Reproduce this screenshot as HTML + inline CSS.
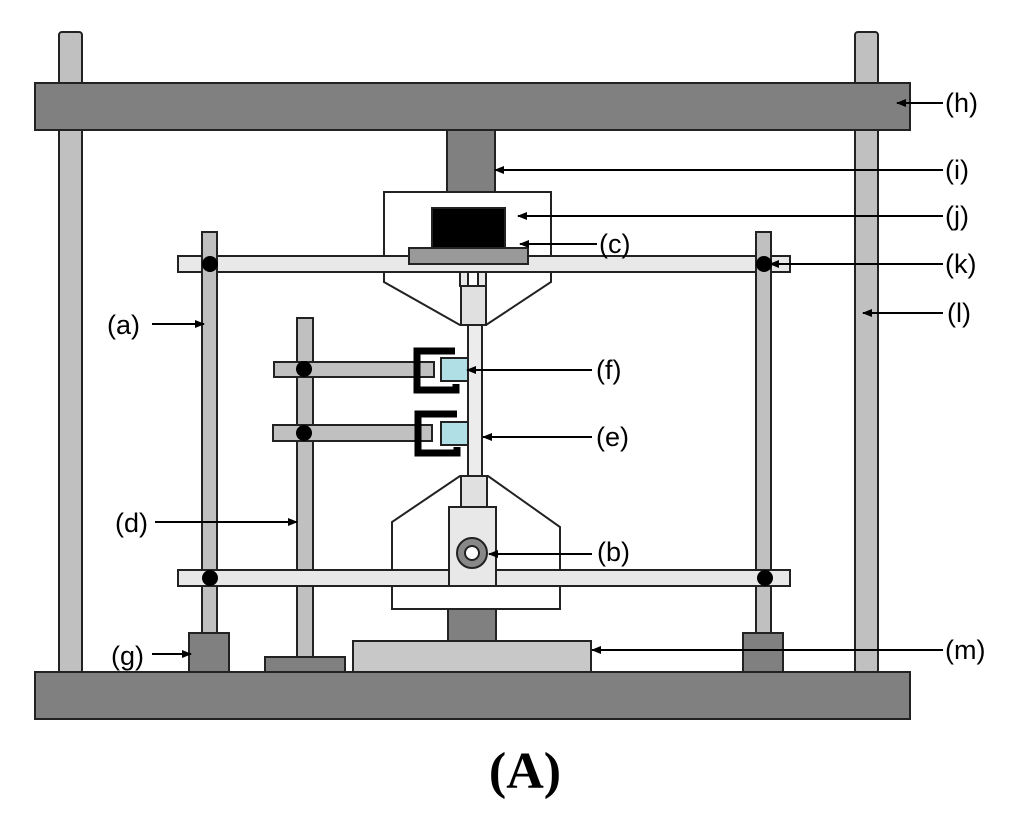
<!DOCTYPE html>
<html><head><style>
html,body{margin:0;padding:0;background:#fff;}
svg{display:block}
text{font-family:"Liberation Sans",sans-serif;font-size:27px;fill:#000}
</style></head><body>
<svg width="1024" height="817" viewBox="0 0 1024 817" xmlns="http://www.w3.org/2000/svg">
<defs>
<marker id="ar" markerWidth="10" markerHeight="8" refX="9" refY="4" orient="auto" markerUnits="userSpaceOnUse">
<path d="M0,0 L10,4 L0,8 Z" fill="#000"/></marker>
</defs>
<g stroke="#222" stroke-width="2">
<rect x="59" y="32" width="23" height="641" rx="3" fill="#c0c0c0"/>
<rect x="855" y="32" width="23" height="641" rx="3" fill="#c0c0c0"/>
<rect x="35" y="83" width="875" height="47" fill="#808080"/>
<rect x="447" y="130" width="48" height="62" fill="#808080"/>
<rect x="384" y="192" width="167" height="66" fill="#fff"/>
<polygon points="384,272 551,272 551,282 486,325 460,325 384,282" fill="#fff"/>
<rect x="432" y="208" width="73" height="40" fill="#000"/>
<rect x="178" y="256" width="612" height="16" fill="#e8e8e8"/>
<rect x="409" y="248" width="119" height="16" fill="#999"/>
<rect x="460" y="272" width="8" height="14" fill="#e8e8e8"/>
<rect x="478" y="272" width="8" height="14" fill="#e8e8e8"/>
<rect x="461" y="286" width="25" height="39" fill="#e0e0e0"/>
<rect x="468" y="325" width="14" height="153" fill="#ececec"/>
<rect x="202" y="232" width="15" height="401" fill="#c0c0c0"/>
<rect x="756" y="232" width="15" height="401" fill="#c0c0c0"/>
<rect x="297" y="318" width="16" height="339" fill="#c0c0c0"/>
<rect x="274" y="362" width="160" height="15" fill="#c0c0c0"/>
<rect x="273" y="425" width="159" height="16" fill="#c0c0c0"/>
</g>
<g fill="none" stroke="#000" stroke-width="7">
<path d="M455,351 L417,351 L417,390 L456,390 L456,384"/>
<path d="M457,414 L418,414 L418,453 L457,453 L457,447"/>
</g>
<g stroke="#222" stroke-width="2">
<rect x="441" y="358" width="27" height="23" fill="#b0e0e6"/>
<rect x="441" y="422" width="27" height="23" fill="#b0e0e6"/>
<polygon points="460,476 488,476 560,527 560,609 392,609 392,522" fill="#fff"/>
<line x1="392" y1="586" x2="560" y2="586"/>
<rect x="178" y="570" width="612" height="16" fill="#e8e8e8"/>
<rect x="461" y="476" width="26" height="31" fill="#e0e0e0"/>
<rect x="449" y="507" width="47" height="79" fill="#e8e8e8"/>
<circle cx="472" cy="553" r="15" fill="#888"/>
<circle cx="472" cy="553" r="7" fill="#fff"/>
<rect x="448" y="609" width="48" height="32" fill="#808080"/>
<rect x="353" y="641" width="238" height="32" fill="#c8c8c8"/>
<rect x="189" y="633" width="40" height="40" fill="#808080"/>
<rect x="743" y="633" width="40" height="40" fill="#808080"/>
<rect x="265" y="657" width="80" height="16" fill="#808080"/>
<rect x="35" y="672" width="875" height="47" fill="#808080"/>
</g>
<g fill="#000">
<circle cx="210" cy="264" r="8"/><circle cx="764" cy="264" r="8"/>
<circle cx="210" cy="578" r="8"/><circle cx="765" cy="578" r="8"/>
<circle cx="304" cy="369" r="8"/><circle cx="304" cy="433" r="8"/>
</g>
<g stroke="#000" stroke-width="2" marker-end="url(#ar)">
<line x1="943" y1="103" x2="897" y2="103"/>
<line x1="943" y1="170" x2="495" y2="170"/>
<line x1="943" y1="216" x2="518" y2="216"/>
<line x1="943" y1="264" x2="770" y2="264"/>
<line x1="943" y1="313" x2="863" y2="313"/>
<line x1="943" y1="650" x2="592" y2="650"/>
<line x1="597" y1="244" x2="520" y2="244"/>
<line x1="592" y1="370" x2="467" y2="370"/>
<line x1="592" y1="437" x2="483" y2="437"/>
<line x1="592" y1="554" x2="489" y2="554"/>
<line x1="152" y1="324" x2="204" y2="324"/>
<line x1="155" y1="522" x2="297" y2="522"/>
<line x1="152" y1="654" x2="191" y2="654"/>
</g>
<text x="945" y="112">(h)</text>
<text x="945" y="179">(i)</text>
<text x="945" y="225">(j)</text>
<text x="945" y="273">(k)</text>
<text x="947" y="322">(l)</text>
<text x="945" y="659">(m)</text>
<text x="599" y="253">(c)</text>
<text x="596" y="379">(f)</text>
<text x="596" y="446">(e)</text>
<text x="597" y="561">(b)</text>
<text x="107" y="334">(a)</text>
<text x="115" y="532">(d)</text>
<text x="111" y="665">(g)</text>
<text x="525" y="788" text-anchor="middle" style="font-family:'Liberation Serif',serif;font-weight:bold;font-size:52px">(A)</text>
</svg>
</body></html>
